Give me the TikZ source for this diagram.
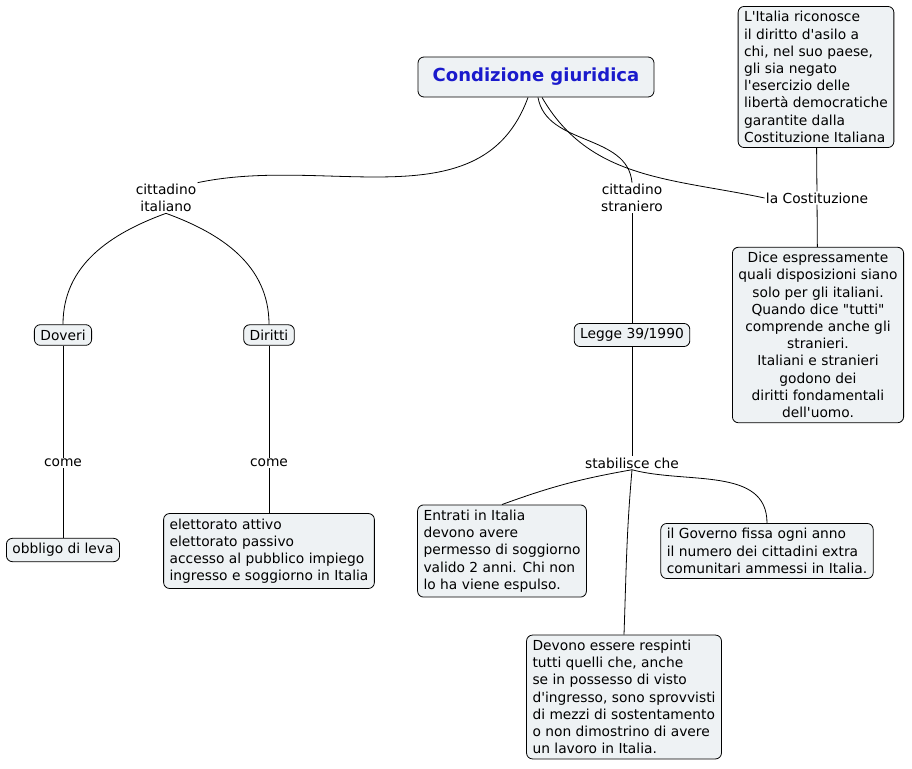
\documentclass[tikz,border=0pt]{standalone}
\usepackage{fontspec}
\setmainfont{DejaVu Sans}[Ligatures=TeXOff]
\usepackage{tikz}
\definecolor{boxfill}{HTML}{EEF2F4}
\definecolor{titleblue}{HTML}{1A1ACC}

\begin{document}
\begin{tikzpicture}[x=1pt,y=-1pt,
    concept/.style={draw,rounded corners=6pt,fill=boxfill,inner xsep=6pt,inner ysep=5pt,
      font=\fontsize{13.8}{17.2}\selectfont},
    link/.style={fill=white,inner sep=1pt,font=\fontsize{13.8}{17.2}\selectfont,align=center},
    every path/.style={line width=0.8pt}]

  \useasboundingbox (0,0) rectangle (912,768);

  \node[concept,minimum width=236pt,minimum height=40pt,font=\fontsize{18}{20}\selectfont\bfseries,text=titleblue] (cond) at (536,77) {Condizione giuridica};
  \node[link] (ita) at (166,198) {cittadino\\italiano};
  \node[link] (stra) at (632,198) {cittadino\\straniero};
  \node[link] (cost) at (817,198) {la Costituzione};
  \node[concept,align=left] (asilo) at (816,77) {L'Italia riconosce\\il diritto d'asilo a\\chi, nel suo paese,\\gli sia negato\\l'esercizio delle\\libertà democratiche\\garantite dalla\\Costituzione Italiana};
  \node[concept,align=center] (dice) at (818,335) {Dice espressamente\\quali disposizioni siano\\solo per gli italiani.\\Quando dice \symbol{34}tutti\symbol{34}\\comprende anche gli\\stranieri.\\Italiani e stranieri\\godono dei\\diritti fondamentali\\dell'uomo.};
  \node[concept] (doveri) at (63,335) {Doveri};
  \node[concept] (diritti) at (269,335) {Diritti};
  \node[concept] (legge) at (632,335) {Legge 39/1990};
  \node[link] (come1) at (63,463) {come};
  \node[link] (come2) at (269,463) {come};
  \node[link] (stab) at (632,463) {stabilisce che};
  \node[concept] (leva) at (63,550) {obbligo di leva};
  \node[concept,align=left] (elett) at (269,551) {elettorato attivo\\elettorato passivo\\accesso al pubblico impiego\\ingresso e soggiorno in Italia};
  \node[concept,align=left] (entrati) at (502,551) {Entrati in Italia\\devono avere\\permesso di soggiorno\\valido 2 anni. Chi non\\lo ha viene espulso.};
  \node[concept,align=left] (gov) at (767,551) {il Governo fissa ogni anno\\il numero dei cittadini extra\\comunitari ammessi in Italia.};
  \node[concept,align=left] (resp) at (624,697) {Devono essere respinti\\tutti quelli che, anche\\se in possesso di visto\\d'ingresso, sono sprovvisti\\di mezzi di sostentamento\\o non dimostrino di avere\\un lavoro in Italia.};

  % connessioni
  \draw (cond.south) ++(-8,0) to[out=-110,in=12] (ita.north east);
  \draw (cond.south) ++(2,0) to[out=-80,in=95] (stra.north);
  \draw (cond.south) ++(6,0) to[out=-60,in=168] (cost.west);
  \draw (asilo) -- (cost);
  \draw (cost) -- (dice);
  \draw (ita.south) to[out=-160,in=90] (doveri.north);
  \draw (ita.south) to[out=-20,in=90] (diritti.north);
  \draw (stra) -- (legge);
  \draw (doveri) -- (come1) -- (leva);
  \draw (diritti) -- (come2) -- (elett);
  \draw (legge) -- (stab);
  \draw (stab.south) to[out=-170,in=20] (entrati.north);
  \draw (stab.south) to[out=-15,in=90] (gov.north);
  \draw (stab.south) to[out=-95,in=88] (resp.north);
\end{tikzpicture}
\end{document}
